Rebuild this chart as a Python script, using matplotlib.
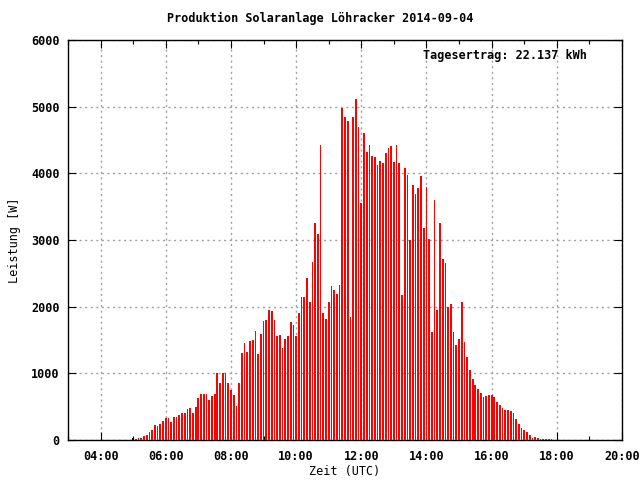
import numpy as np
import pandas as pd
import matplotlib
matplotlib.use("Agg")
import matplotlib.pyplot as plt
import matplotlib.dates as mdates

# Messwerte alle 5 Minuten (Leistung in W)
datum = "2014-09-04"
start_schwarz = "05:00"
leistung_schwarz = [35]
start_rot = "05:05"
intervall_min = 5
leistung_rot = [
    20, 35, 35, 65, 80, 125, 155, 230, 210, 245, 290, 325, 330, 275, 350, 350,
    380, 400, 410, 470, 485, 410, 500, 635, 690, 690, 690, 600, 665, 690, 1000,
    855, 1000, 1000, 855, 750, 675, 510, 855, 1305, 1455, 1320, 1485, 1500, 1635,
    1290, 1590, 1785, 1800, 1950, 1940, 1805, 1565, 1580, 1385, 1520, 1565, 1775,
    1730, 1565, 1910, 2150, 2150, 2435, 2075, 2675, 3260, 3095, 4430, 1910, 1820,
    2075, 2315, 2255, 2195, 2330, 4985, 4850, 4790, 1850, 4850, 5120, 4700, 3560,
    4610, 4325, 4430, 4265, 4250, 4130, 4190, 4160, 4310, 4385, 4415, 4175, 4430,
    4160, 2180, 4085, 3980, 3005, 3825, 3690, 3780, 3960, 3180, 3795, 3015, 1620,
    3600, 1950, 3255, 2715, 2655, 1995, 2040, 1620, 1425, 1515, 2070, 1470, 1245,
    1050, 915, 825, 765, 700, 645, 660, 675, 675, 645, 570, 525, 480, 450, 450,
    435, 405, 315, 240, 180, 150, 120, 75, 30, 45, 30, 15, 15, 15, 15, 15,
]
tagesertrag = "22.137 kWh"
titel = "Produktion Solaranlage Löhracker " + datum

zeit_rot = pd.date_range(f"{datum} {start_rot}", periods=len(leistung_rot),
                         freq=f"{intervall_min}min")
zeit_schwarz = pd.date_range(f"{datum} {start_schwarz}",
                             periods=len(leistung_schwarz),
                             freq=f"{intervall_min}min")

plt.rcParams["font.family"] = ["DejaVu Sans Mono"]
plt.rcParams["font.weight"] = "bold"
plt.rcParams["font.size"] = 8.5

fig = plt.figure(figsize=(6.4, 4.8), dpi=100)
ax = fig.add_axes([68 / 640, 40 / 480, 554 / 640, 400 / 480])

# ~2 Pixel breite Balken (3.2 min bei 32.6 px pro Stunde)
breite = 3.2 / 1440
ax.bar(zeit_rot, leistung_rot, width=breite, color="#ff0000", linewidth=0,
       antialiased=False, zorder=3)
ax.bar(zeit_schwarz, leistung_schwarz, width=breite, color="black",
       linewidth=0, antialiased=False, zorder=3)

ax.set_xlim(pd.Timestamp(f"{datum} 03:00"), pd.Timestamp(f"{datum} 20:00"))
ax.set_ylim(0, 6000)

ax.xaxis.set_major_locator(mdates.HourLocator(byhour=range(4, 21, 2)))
ax.xaxis.set_minor_locator(mdates.HourLocator(byhour=range(3, 21, 1)))
ax.xaxis.set_major_formatter(mdates.DateFormatter("%H:%M"))
ax.set_yticks(np.arange(0, 6001, 1000))

ax.tick_params(which="both", direction="in", top=True, right=True,
               labelsize=8.5)
ax.tick_params(axis="x", pad=7)
ax.tick_params(axis="y", pad=6)
ax.tick_params(which="major", length=6, width=0.8)
ax.tick_params(which="minor", length=3, width=0.8)

ax.grid(True, which="major", color="#a0a0a0", linestyle=(0, (1.5, 2.5)),
        linewidth=1.0, zorder=0)
ax.set_axisbelow(True)
for s in ax.spines.values():
    s.set_linewidth(1.0)
    s.set_color("black")

ax.set_xlabel("Zeit (UTC)", fontsize=8.5, labelpad=2)
ax.set_ylabel("Leistung [W]", fontsize=8.5, labelpad=7)
fig.text(0.5, 1 - 18 / 480, titel, ha="center", va="center", fontsize=8.5)
ax.text(0.937, 0.96, "Tagesertrag: " + tagesertrag, transform=ax.transAxes,
        ha="right", va="center", fontsize=8.5)

fig.savefig("out.png", dpi=100)
